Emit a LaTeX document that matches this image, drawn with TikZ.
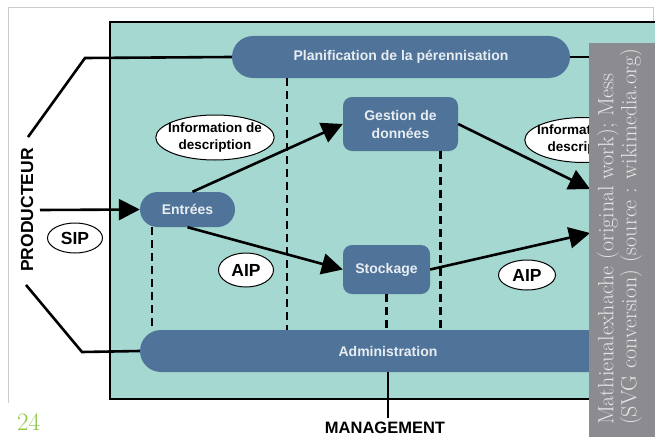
\documentclass[tikz,border=0pt]{standalone}
\usepackage{fontspec}
\setsansfont{Liberation Sans}
\usetikzlibrary{positioning, arrows.meta, shapes.geometric, calc}
\definecolor{panel}{HTML}{A4D8D1}
\definecolor{boxblue}{HTML}{4F7399}
\definecolor{boxtext}{HTML}{E8EDF2}
\definecolor{bannergray}{HTML}{8C8B90}
\definecolor{bannertext}{HTML}{E6E6E8}
\definecolor{pagegreen}{HTML}{8DC63F}

\begin{document}
\begin{tikzpicture}[
    x=1pt, y=-1pt,
    proc/.style={fill=boxblue, text=boxtext, font=\sffamily\bfseries\fontsize{14}{18}\selectfont, align=center, inner sep=0pt},
    tag/.style={ellipse, draw=black, line width=1pt, fill=white, inner xsep=-5pt, inner ysep=-3pt, align=center, font=\sffamily\bfseries\fontsize{13.5}{17}\selectfont},
    acro/.style={tag, inner sep=0pt, font=\sffamily\bfseries\fontsize{17.5}{20}\selectfont},
    arr/.style={-{Triangle[length=21pt, width=21pt]}, line width=2.6pt},
    link/.style={line width=2.6pt},
    dashline/.style={line width=2.6pt, dash pattern=on 8pt off 5pt}
]
    \useasboundingbox (0,0) rectangle (655,436);

    % page frame and panel
    \draw[black!20, line width=0.8pt] (8,403) -- (8,7) -- (653,7) -- (653,45);
    \fill[panel] (110,22) rectangle (662,399);
    \draw[line width=2.6pt] (662,22) -- (110,22) -- (110,399) -- (662,399);

    % functions
    \node[proc, minimum width=338pt, minimum height=42pt, rounded corners=21pt] (planif) at (401,57) {Planification de la pérennisation};
    \node[proc, minimum width=95pt, minimum height=35pt, rounded corners=17.5pt] (entree) at (187.5,209.5) {Entrées};
    \node[proc, minimum width=115pt, minimum height=54pt, rounded corners=9pt] (gestion) at (400.5,124) {Gestion de\\données};
    \node[proc, minimum width=87pt, minimum height=49pt, rounded corners=9pt] (stockage) at (386.5,269.5) {Stockage};
    \node[proc, minimum width=496pt, minimum height=42pt, rounded corners=21pt] (admin) at (388,351) {Administration};

    % outside actors
    \node[font=\sffamily\bfseries\fontsize{17.5}{20}\selectfont, rotate=90, inner sep=0pt] (prod) at (27,210) {PRODUCTEUR};
    \node[font=\sffamily\bfseries\fontsize{16.5}{20}\selectfont, inner sep=0pt, anchor=base] (mgmt) at (385,433) {MANAGEMENT};

    \coordinate (bendup) at (85,58);
    \coordinate (benddown) at (82,352);
    \coordinate (planright) at (592,57);
    \coordinate (prodin) at (40,210);
    \coordinate (accesa) at (590,189);
    \coordinate (accesb) at (590,233);
    \coordinate (mgmttop) at ([yshift=3pt]mgmt.north);

    \draw[link] ($(prod.east)+(1,-11)$) -- (bendup) -- (planif.west);
    \draw[link] ($(prod.west)+(-1,13)$) -- (benddown) -- (admin.west);
    \draw[link] (planif.east) -- (planright);
    \draw[link] (admin.south) -- (admin.south |- mgmttop);

    % flows
    \draw[arr] (prodin) -- (entree.west);
    \draw[arr] ($(entree.north)+(5,0)$) -- (gestion.west);
    \draw[arr] (entree.south) -- (stockage.west);
    \draw[arr] (gestion.east) -- (accesa);
    \draw[arr] (stockage.east) -- (accesb);

    % links to admin
    \coordinate (dplan) at ($(planif.south west)+(55,0)$);
    \coordinate (dentree) at ($(entree.south west)+(12,0)$);
    \coordinate (dgestion) at ($(gestion.south east)+(-18,0)$);
    \draw[dashline] (dplan) -- (dplan |- admin.north);
    \draw[dashline] (dentree) -- (dentree |- admin.north);
    \draw[dashline] (dgestion) -- (dgestion |- admin.north);
    \draw[dashline] (stockage.south) -- (stockage.south |- admin.north);

    % packages
    \node[tag, minimum width=114pt, minimum height=45pt] (infoin) at (215,137.5) {Information de\\description};
    \node[tag, minimum width=114pt, minimum height=45pt] (infoout) at (584,140) {Information de\\description};
    \node[acro, minimum width=55pt, minimum height=30pt] (sip) at (75,238) {SIP};
    \node[acro, minimum width=55pt, minimum height=34pt] (aipin) at (246,270) {AIP};
    \node[acro, minimum width=57pt, minimum height=30pt] (aipout) at (527,275) {AIP};

    % credit band and page number
    \fill[bannergray] (589,43) rectangle (662,440);
    \node[rotate=90, align=left, inner sep=0pt, text=bannertext, font=\fontsize{22}{23}\selectfont, anchor=south west] (credit) at (642,425) {Mathieualexhache (original work); Mess\\(SVG conversion) (source : wikimedia.org)};
    \node[text=pagegreen, font=\fontsize{25}{25}\selectfont, inner sep=0pt, anchor=base west] (page) at (17,430) {24};
\end{tikzpicture}
\end{document}
